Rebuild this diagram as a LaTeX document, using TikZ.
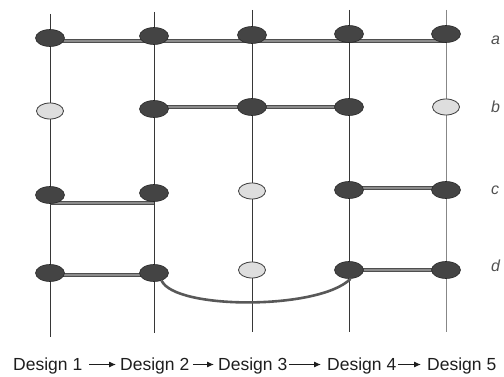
\documentclass[tikz,border=0pt]{standalone}
\usepackage{fontspec}
\setmainfont{Liberation Sans}
\usetikzlibrary{shapes.geometric,arrows.meta}
\definecolor{rail}{RGB}{55,55,55}
\definecolor{raillight}{RGB}{135,135,135}
\definecolor{darknode}{RGB}{68,68,68}
\definecolor{darkedge}{RGB}{40,40,40}
\definecolor{lightnode}{RGB}{222,222,222}
\definecolor{linkout}{RGB}{78,78,78}
\definecolor{linkin}{RGB}{140,140,140}
\definecolor{curvecol}{RGB}{88,88,88}
\definecolor{labelcol}{RGB}{80,80,80}
\definecolor{textcol}{RGB}{30,30,30}
\tikzset{
  railline/.style={draw=rail, line width=1pt},
  used/.style={ellipse, draw=darkedge, fill=darknode, line width=0.6pt,
    minimum width=29pt, minimum height=17pt, inner sep=0pt},
  unused/.style={ellipse, draw=darkedge!90, fill=lightnode, line width=0.8pt,
    minimum width=27pt, minimum height=16pt, inner sep=0pt},
  link/.style={draw=linkout, double=linkin, line width=1pt, double distance=2pt},
  reuse/.style={draw=curvecol, line width=2.6pt},
  rowlabel/.style={anchor=west, inner sep=0pt, text=labelcol,
    font=\fontsize{16}{19}\selectfont\itshape},
  design/.style={anchor=base west, inner sep=0pt, text=textcol,
    font=\fontsize{17.5}{21}\selectfont},
  step arrow/.style={draw=textcol, line width=1pt,
    -{Latex[length=7pt,width=6pt]}}
}
\begin{document}
\begin{tikzpicture}[x=1pt,y=-1pt]
\useasboundingbox (0,0) rectangle (504,377);
\begin{scope}
\clip (0,0) rectangle (504,377);

% column rails
\coordinate (t1) at (50,14);  \coordinate (u1) at (50,337);
\coordinate (t2) at (154,12); \coordinate (u2) at (154,333);
\coordinate (t3) at (252,10); \coordinate (u3) at (252,332);
\coordinate (t4) at (349,10); \coordinate (u4) at (349,332);
\coordinate (t5) at (446,10); \coordinate (u5) at (446,332);
\draw[railline] (t1) -- (u1);
\draw[railline] (t2) -- (u2);
\draw[railline] (t3) -- (u3);
\draw[railline] (t4) -- (u4);
\draw[railline, draw=raillight] (t5) -- (u5);

% feature positions
\coordinate (pa1) at (50,38);  \coordinate (pa2) at (154,36);
\coordinate (pa3) at (252,35); \coordinate (pa4) at (349,34);
\coordinate (pa5) at (446,34);
\coordinate (pb1) at (50,111); \coordinate (pb2) at (154,109);
\coordinate (pb3) at (252,107); \coordinate (pb4) at (349,107);
\coordinate (pb5) at (446,107);
\coordinate (pc1) at (50,195); \coordinate (pc2) at (154,193);
\coordinate (pc3) at (252,191); \coordinate (pc4) at (349,190);
\coordinate (pc5) at (446,190);
\coordinate (pd1) at (50,273); \coordinate (pd2) at (154,273);
\coordinate (pd3) at (252,270); \coordinate (pd4) at (349,270);
\coordinate (pd5) at (446,270);

% shared feature links
\draw[link] (pa1 |- 0,41) -- (pa5 |- 0,41);
\draw[link] (pb2 |- 0,107) -- (pb4 |- 0,107);
\draw[link] (pc1 |- 0,203) -- (pc2 |- 0,203);
\draw[link] (pc4 |- 0,188) -- (pc5 |- 0,188);
\draw[link] (pd1 |- 0,275) -- (pd2 |- 0,275);
\draw[link] (pd4 |- 0,270) -- (pd5 |- 0,270);

% features
\node[used]   (a1) at (pa1) {};
\node[used]   (a2) at (pa2) {};
\node[used]   (a3) at (pa3) {};
\node[used]   (a4) at (pa4) {};
\node[used]   (a5) at (pa5) {};
\node[unused] (b1) at (pb1) {};
\node[used]   (b2) at (pb2) {};
\node[used]   (b3) at (pb3) {};
\node[used]   (b4) at (pb4) {};
\node[unused] (b5) at (pb5) {};
\node[used]   (c1) at (pc1) {};
\node[used]   (c2) at (pc2) {};
\node[unused] (c3) at (pc3) {};
\node[used]   (c4) at (pc4) {};
\node[used]   (c5) at (pc5) {};
\node[used]   (d1) at (pd1) {};
\node[used]   (d2) at (pd2) {};
\node[unused] (d3) at (pd3) {};
\node[used]   (d4) at (pd4) {};
\node[used]   (d5) at (pd5) {};

% feature d carried over from design 2 to design 4
\draw[reuse] (d2.-45) .. controls (175,310) and (320,310) .. (d4.-80);

% row labels
\node[rowlabel] (la) at (491,40) {a};
\node[rowlabel] (lb) at (491,107) {b};
\node[rowlabel] (lc) at (491,190) {c};
\node[rowlabel] (ld) at (491,266) {d};

% design sequence
\node[design] (w1) at (13,370) {Design 1};
\node[design] (w2) at (120,370) {Design 2};
\node[design] (w3) at (218,370) {Design 3};
\node[design] (w4) at (327,370) {Design 4};
\node[design] (w5) at (427,370) {Design 5};
\draw[step arrow] ([shift={(7,-5.5)}]w1.base east) -- ([shift={(-4,-5.5)}]w2.base west);
\draw[step arrow] ([shift={(4,-5.5)}]w2.base east) -- ([shift={(-4,-5.5)}]w3.base west);
\draw[step arrow] ([shift={(2,-5.5)}]w3.base east) -- ([shift={(-6,-5.5)}]w4.base west);
\draw[step arrow] ([shift={(2,-5.5)}]w4.base east) -- ([shift={(-6,-5.5)}]w5.base west);
\end{scope}
\end{tikzpicture}
\end{document}
